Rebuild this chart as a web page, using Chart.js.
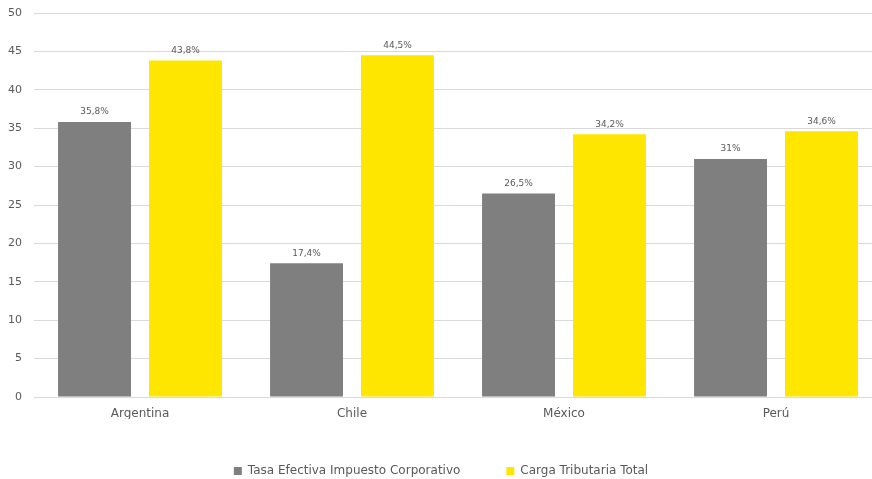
<!DOCTYPE html>
<html>
<head>
<meta charset="utf-8">
<script src="https://cdn.jsdelivr.net/npm/chart.js@4/dist/chart.umd.min.js"></script>
<style>
  html, body { margin: 0; padding: 0; background: #ffffff; overflow: hidden; width: 872px; height: 479px; }
  #wrap { width: 882px; height: 487px; }
</style>
</head>
<body>
<div id="wrap"><canvas id="c" width="882" height="487"></canvas></div>
<script>
const categories = ["Argentina", "Chile", "México", "Perú"];
const seriesNames = ["Tasa Efectiva Impuesto Corporativo", "Carga Tributaria Total"];
const tasaEfectiva = [35.8, 17.4, 26.5, 31];
const cargaTotal = [43.8, 44.5, 34.2, 34.6];
const tasaLabels = ["35,8%", "17,4%", "26,5%", "31%"];
const cargaLabels = ["43,8%", "44,5%", "34,2%", "34,6%"];
const yTicks = [0, 5, 10, 15, 20, 25, 30, 35, 40, 45, 50];

const FONT = "'DejaVu Sans', Verdana, sans-serif";
const TXT = "#595959";

const valueLabels = {
  id: 'valueLabels',
  afterDatasetsDraw(chart) {
    const ctx = chart.ctx;
    const texts = [tasaLabels, cargaLabels];
    ctx.save();
    ctx.font = "9px " + FONT;
    ctx.fillStyle = TXT;
    ctx.textAlign = "center";
    ctx.textBaseline = "middle";
    chart.data.datasets.forEach((ds, di) => {
      const meta = chart.getDatasetMeta(di);
      meta.data.forEach((bar, i) => {
        ctx.fillText(texts[di][i], bar.x, bar.y - 10);
      });
    });
    ctx.restore();
  }
};

new Chart(document.getElementById('c'), {
  type: 'bar',
  data: {
    labels: categories,
    datasets: [
      { label: seriesNames[0], data: tasaEfectiva, backgroundColor: "#7f7f7f",
        categoryPercentage: 0.858, barPercentage: 0.802 },
      { label: seriesNames[1], data: cargaTotal, backgroundColor: "#ffe600",
        categoryPercentage: 0.858, barPercentage: 0.802 }
    ]
  },
  options: {
    responsive: false,
    animation: false,
    devicePixelRatio: 1,
    layout: { padding: { top: 0, right: 0, bottom: 0, left: 0 } },
    plugins: {
      tooltip: { enabled: false },
      legend: {
        position: 'bottom',
        labels: {
          boxWidth: 8, boxHeight: 8, padding: 46,
          color: TXT,
          font: { family: FONT, size: 12 }
        }
      }
    },
    scales: {
      x: {
        grid: { display: false, drawTicks: false },
        border: { display: true, color: "#d9d9d9", width: 1 },
        ticks: { color: TXT, font: { family: FONT, size: 12 }, padding: 10 },
        afterFit(scale) { scale.height = 22; }
      },
      y: {
        min: 0, max: 50,
        afterBuildTicks(scale) { scale.ticks = yTicks.map(v => ({ value: v })); },
        grid: { color: "#d9d9d9", drawTicks: false, tickLength: 0 },
        border: { display: false },
        ticks: { color: TXT, font: { family: FONT, size: 11 }, padding: 12 },
        afterFit(scale) { scale.width = 34; scale.paddingTop = 13; scale.paddingBottom = 0; }
      }
    }
  },
  plugins: [valueLabels]
});
</script>
</body>
</html>
